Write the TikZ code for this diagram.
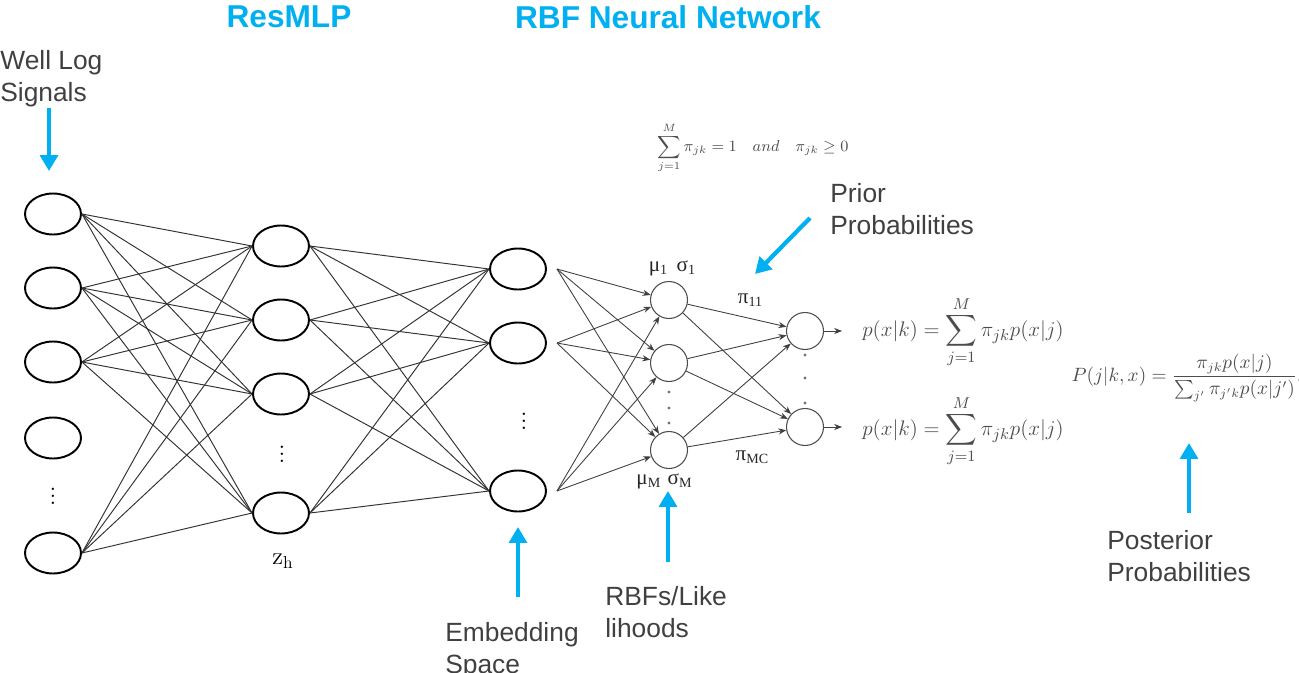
\documentclass[tikz,border=0pt]{standalone}
\usepackage{amsmath}
\usepackage{amssymb}
\usepackage{fontspec}
\usetikzlibrary{arrows.meta, positioning, shapes.geometric}
\newfontfamily\labelfont{Liberation Sans}
\newfontfamily\greekfont{Liberation Serif}
\definecolor{callblue}{HTML}{00B0F0}
\definecolor{labelgray}{HTML}{404040}
\newcommand{\lsub}[1]{\raisebox{-0.35ex}{\footnotesize #1}}

\begin{document}
\begin{tikzpicture}[x=0.02cm, y=-0.02cm,
    unit/.style={draw, ellipse, line width=1.1pt, minimum width=1.12cm, minimum height=0.82cm, inner sep=0pt},
    rbf/.style={draw=black!70, circle, line width=0.6pt, minimum size=0.74cm, inner sep=0pt},
    link/.style={draw=black!80, line width=0.55pt},
    rbflink/.style={draw=black!75, line width=0.5pt, -{Stealth[length=4.5pt, width=3.5pt]}},
    callout/.style={draw=callblue, line width=2.4pt, -{Triangle[length=9pt, width=10pt]}},
    lbl/.style={font=\labelfont\fontsize{15}{18.2}\selectfont, text=labelgray, align=left, anchor=north west, inner sep=0pt},
    title/.style={font=\labelfont\bfseries\fontsize{18}{21}\selectfont, text=callblue, inner sep=0pt},
    eq/.style={text=black!70, inner sep=0pt},
    vdot/.style={font=\fontsize{14}{16}\selectfont, inner sep=0pt},
    greek/.style={font=\greekfont\fontsize{12}{14}\selectfont, text=black!85, inner sep=0pt}]
  \useasboundingbox (0,0) rectangle (1299,673);

  \node[title] (tmlp) at (289,17) {ResMLP};
  \node[title] (trbf) at (668,17) {RBF Neural Network};

  % ResMLP layers
  \foreach \n/\y in {1/214, 2/288, 3/362, 4/438, 5/553}
    \node[unit] (i\n) at (53,\y) {};
  \node[vdot] (idots) at (53,491) {$\vdots$};
  \foreach \n/\y in {1/246, 2/320, 3/394, 4/513}
    \node[unit] (h\n) at (281,\y) {};
  \node[vdot] (hdots) at (282,449) {$\vdots$};
  \node[font=\fontsize{14}{16}\selectfont] (zh) at (283,561) {$\mathrm{z}_{\mathrm{h}}$};
  \foreach \n/\y in {1/269, 2/343, 3/491}
    \node[unit] (e\n) at (518,\y) {};
  \node[vdot] (edots) at (524,416) {$\vdots$};

  \foreach \a in {1,2,3,5}
    \foreach \b in {1,...,4}
      \draw[link] (i\a.east) -- (h\b.west);
  \foreach \a in {1,...,4}
    \foreach \b in {1,2,3}
      \draw[link] (h\a.east) -- (e\b.west);

  % RBF network
  \foreach \n/\y in {1/300, 2/363, 3/450}
    \node[rbf] (r\n) at (669,\y) {};
  \foreach \n/\y in {1/331, 2/427}
    \node[rbf] (o\n) at (805,\y) {};
  \foreach \y in {392,408,423}
    \fill[black!55] (669,\y) circle[radius=0.9pt];
  \foreach \y in {355,378,403}
    \fill[black!55] (805,\y) circle[radius=0.9pt];

  \foreach \a in {1,2,3}
    \coordinate (s\a) at ([xshift=0.2cm]e\a.east);
  \foreach \a in {1,2,3}
    \foreach \b in {1,2,3}
      \draw[rbflink] (s\a) -- (r\b);
  \foreach \a in {1,2,3}
    \foreach \b in {1,2}
      \draw[rbflink] (r\a) -- (o\b);
  \foreach \b in {1,2} {
    \coordinate (t\b) at ([xshift=0.36cm]o\b.east);
    \draw[rbflink] (o\b) -- (t\b);
  }

  \node[greek] (mu1) at (672,268) {μ\lsub{1}\hspace{0.45em}σ\lsub{1}};
  \node[greek] (pi11) at (750,300) {π\lsub{11}};
  \node[greek] (piMC) at (752,457) {π\lsub{MC}};
  \node[greek] (muM) at (664,481) {μ\lsub{M}\hspace{0.35em}σ\lsub{M}};

  % formulas
  \node[eq, font=\fontsize{9}{11}\selectfont] (cons) at (753,148)
    {$\displaystyle\sum_{j=1}^{M}\pi_{jk}=1\quad and\quad \pi_{jk}\geq 0$};
  \node[eq, font=\fontsize{12.5}{15}\selectfont] (px1) at (963,332)
    {$\displaystyle p(x|k)=\sum_{j=1}^{M}\pi_{jk}p(x|j)$};
  \node[eq, font=\fontsize{12.5}{15}\selectfont] (px2) at (963,431)
    {$\displaystyle p(x|k)=\sum_{j=1}^{M}\pi_{jk}p(x|j)$};
  \node[eq, font=\fontsize{10.6}{13}\selectfont] (post) at (1187,378)
    {$\displaystyle P(j|k,x)=\frac{\pi_{jk}p(x|j)}{\sum_{j'}\pi_{j'k}p(x|j')}.$};

  % callouts
  \node[lbl] (wls) at (0,50) {Well Log\\Signals};
  \coordinate (wlA) at (49,108);
  \coordinate (wlB) at (49,171);
  \draw[callout] (wlA) -- (wlB);

  \node[lbl] (prior) at (830,183) {Prior\\Probabilities};
  \coordinate (prA) at (810,218);
  \coordinate (prB) at (755,274);
  \draw[callout] (prA) -- (prB);

  \node[lbl] (emb) at (445,622) {Embedding\\Space};
  \coordinate (emA) at (518,597);
  \coordinate (emB) at (518,527);
  \draw[callout] (emA) -- (emB);

  \node[lbl] (rbfl) at (605,586) {RBFs/Like\\lihoods};
  \coordinate (rlA) at (668,562);
  \coordinate (rlB) at (668,491);
  \draw[callout] (rlA) -- (rlB);

  \node[lbl] (postl) at (1107,530) {Posterior\\Probabilities};
  \coordinate (poA) at (1189,513);
  \coordinate (poB) at (1189,443);
  \draw[callout] (poA) -- (poB);
\end{tikzpicture}
\end{document}
